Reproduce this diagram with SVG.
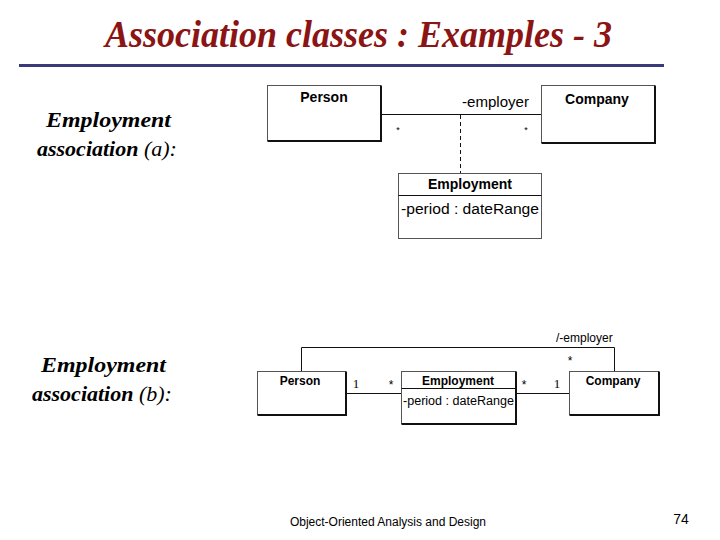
<svg xmlns="http://www.w3.org/2000/svg" width="720" height="540" viewBox="0 0 720 540">
<style>
.box{fill:#fff;stroke:#555;stroke-width:1}
.sh{fill:none;stroke:#111;stroke-width:2}
.ln{fill:none;stroke:#111;stroke-width:1}
.dash{fill:none;stroke:#111;stroke-width:1;stroke-dasharray:4,3}
.cn{font-family:"Liberation Sans",Arial,sans-serif;font-weight:bold;fill:#000;text-anchor:middle}
.at{font-family:"Liberation Sans",Arial,sans-serif;fill:#000}
.mult{font-family:"Liberation Sans",Arial,sans-serif;fill:#000;text-anchor:middle}
.one{font-family:"Liberation Serif","Times New Roman",serif;fill:#000;text-anchor:middle}
.lab{font-family:"Liberation Serif","Times New Roman",serif;font-style:italic;font-size:22px;fill:#000}
</style>
<rect width="720" height="540" fill="#fff"/>
<g id="title">
<text x="105" y="47" font-family="Liberation Serif,'Times New Roman',serif" font-style="italic" font-weight="bold" font-size="37" fill="#8B1414" textLength="507" lengthAdjust="spacingAndGlyphs">Association classes : Examples - 3</text>
<line x1="19" y1="65.5" x2="664" y2="65.5" stroke="#3A3A7A" stroke-width="3"/>
</g>
<g id="label-a">
<text class="lab" x="46" y="127" font-weight="bold" textLength="125" lengthAdjust="spacingAndGlyphs">Employment</text>
<text class="lab" x="37" y="156"><tspan font-weight="bold">association</tspan> (a):</text>
</g>
<g id="label-b">
<text class="lab" x="41" y="372" font-weight="bold" textLength="125" lengthAdjust="spacingAndGlyphs">Employment</text>
<text class="lab" x="32" y="401"><tspan font-weight="bold">association</tspan> (b):</text>
</g>
<g id="connectors">
<line class="ln" x1="381" y1="114.5" x2="541" y2="114.5"/>
<line class="dash" x1="460.5" y1="115" x2="460.5" y2="173"/>
<line class="ln" x1="346" y1="393.5" x2="402" y2="393.5"/>
<line class="ln" x1="516" y1="393.5" x2="569" y2="393.5"/>
<polyline class="ln" points="301.5,371 301.5,347.5 614.5,347.5 614.5,371"/>
</g>
<g id="a-person">
<rect class="box" x="267.5" y="85.5" width="113" height="55"/>
<polyline class="sh" points="381,85.5 381,141 267.5,141"/>
<text class="cn" x="324" y="101.5" font-size="14">Person</text>
</g>
<g id="a-company">
<rect class="box" x="541.5" y="85.5" width="113" height="57"/>
<polyline class="sh" points="655,85.5 655,143 541.5,143"/>
<text class="cn" x="597" y="104" font-size="14">Company</text>
</g>
<g id="a-employment">
<rect class="box" x="398.5" y="173.5" width="143" height="65"/>
<line class="ln" x1="398.5" y1="195.5" x2="541.5" y2="195.5"/>
<text class="cn" x="470" y="189" font-size="14">Employment</text>
<text class="at" x="401" y="214" font-size="14" textLength="138" lengthAdjust="spacingAndGlyphs">-period : dateRange</text>
</g>
<g id="a-labels">
<text class="at" x="462" y="107" font-size="14" textLength="67" lengthAdjust="spacingAndGlyphs">-employer</text>
<text class="mult" x="398" y="133" font-size="9">*</text>
<text class="mult" x="526" y="133" font-size="9">*</text>
</g>
<g id="b-person">
<rect class="box" x="257.5" y="371.5" width="88" height="43"/>
<polyline class="sh" points="346,371.5 346,415 257.5,415"/>
<text class="cn" x="300" y="385" font-size="12">Person</text>
</g>
<g id="b-employment">
<rect class="box" x="401.5" y="371.5" width="114" height="52"/>
<polyline class="sh" points="516,371.5 516,424 401.5,424"/>
<line class="ln" x1="401.5" y1="388.5" x2="516" y2="388.5"/>
<text class="cn" x="458" y="385" font-size="12">Employment</text>
<text class="at" x="403" y="405" font-size="12" textLength="111" lengthAdjust="spacingAndGlyphs">-period : dateRange</text>
</g>
<g id="b-company">
<rect class="box" x="569.5" y="371.5" width="89" height="43"/>
<polyline class="sh" points="659,371.5 659,415 569.5,415"/>
<text class="cn" x="613" y="385" font-size="12">Company</text>
</g>
<g id="b-labels">
<text class="at" x="556" y="342" font-size="12">/-employer</text>
<text class="mult" x="570" y="365" font-size="12">*</text>
<text class="one" x="356" y="388" font-size="13">1</text>
<text class="mult" x="391" y="389" font-size="12">*</text>
<text class="mult" x="524" y="389" font-size="12">*</text>
<text class="one" x="557" y="388" font-size="13">1</text>
</g>
<g id="footer">
<text x="388" y="526" text-anchor="middle" font-family="Liberation Sans,Arial,sans-serif" font-size="12" fill="#000">Object-Oriented Analysis and Design</text>
<text x="681" y="524" text-anchor="middle" font-family="Liberation Sans,Arial,sans-serif" font-size="14" fill="#000">74</text>
</g>
</svg>
